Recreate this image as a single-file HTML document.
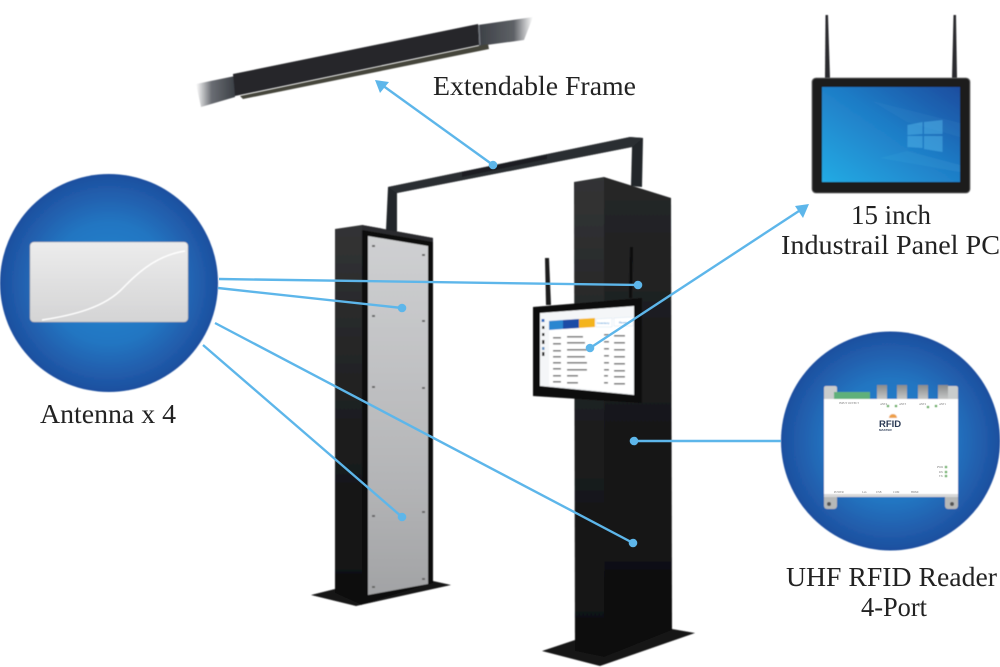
<!DOCTYPE html>
<html lang="en"><head><meta charset="utf-8"><title>RFID Gate</title>
<style>html,body{margin:0;padding:0;background:#fff}svg{display:block}text{font-family:"Liberation Serif",serif;fill:#222}</style></head>
<body>
<svg width="1000" height="667" viewBox="0 0 1000 667" xmlns="http://www.w3.org/2000/svg">
<defs>
<radialGradient id="c1" cx="50%" cy="50%" r="50%"><stop offset="0" stop-color="#2a86d0"/><stop offset=".55" stop-color="#2276c2"/><stop offset="1" stop-color="#1f4f9f"/></radialGradient>
<linearGradient id="ant" x1="0" y1="0" x2="0" y2="1"><stop offset="0" stop-color="#ececec"/><stop offset="1" stop-color="#d4d4d5"/></linearGradient>
<linearGradient id="silver" x1="0" y1="0" x2="0" y2="1"><stop offset="0" stop-color="#cfd0d2"/><stop offset=".7" stop-color="#b3b4b6"/><stop offset="1" stop-color="#a2a3a5"/></linearGradient>
<linearGradient id="side" x1="0" y1="0" x2="0" y2="1"><stop offset="0" stop-color="#333435"/><stop offset=".55" stop-color="#1c1d1e"/><stop offset="1" stop-color="#0f0f0f"/></linearGradient>
<linearGradient id="front" x1="0" y1="0" x2="0" y2="1"><stop offset="0" stop-color="#262728"/><stop offset=".5" stop-color="#19191a"/><stop offset="1" stop-color="#0d0d0d"/></linearGradient>
<linearGradient id="win" x1="0" y1="1" x2="1" y2="0"><stop offset="0" stop-color="#25abe4"/><stop offset=".55" stop-color="#1f7cc6"/><stop offset="1" stop-color="#1f4d9f"/></linearGradient>
<linearGradient id="endL" x1="0" y1="0" x2="1" y2="0"><stop offset="0" stop-color="#fff"/><stop offset=".4" stop-color="#6a6d73"/><stop offset="1" stop-color="#3c4046"/></linearGradient>
<linearGradient id="endR" x1="0" y1="0" x2="1" y2="0"><stop offset="0" stop-color="#3c4046"/><stop offset=".65" stop-color="#5e6166"/><stop offset="1" stop-color="#fff"/></linearGradient>
<linearGradient id="term" x1="0" y1="0" x2="0" y2="1"><stop offset="0" stop-color="#8a8c8c"/><stop offset="1" stop-color="#c9caca"/></linearGradient>
<filter id="soft" x="-5%" y="-5%" width="110%" height="110%"><feGaussianBlur stdDeviation=".45"/></filter>
</defs>

<g filter="url(#soft)">
<!-- Extendable frame detail -->
<polygon points="196,84 235,76 235,97 201,107" fill="url(#endL)"/>
<polygon points="478,25 533,17 524,40 479,46" fill="url(#endR)"/>
<polygon points="240,96 488,44 489,49 243,99" fill="#44443a"/>
<polygon points="233,74 478,24 479,45 235,96" fill="#26282c"/>
<line x1="479" y1="25" x2="480" y2="45" stroke="#80848a" stroke-width="1"/>

<!-- Overhead frame -->
<polygon points="388,187 630,137 643,138 642,187 631,186 632,147 397,193 397,232 386,230" fill="#24282c"/>
<polygon points="388,187 630,137 643,138 632,147 397,193" fill="#2b2f33"/>
<polygon points="462,172 547,155 547,159 462,177" fill="#1c1f22"/>

<!-- Left tower -->
<polygon points="311,595 335,589 433,581 451,585 356,606" fill="#141414"/>
<polygon points="335,229 362,225 362,605 335,593" fill="url(#side)"/>
<polygon points="362,225 433,238 433,583 362,604" fill="#0f0f10"/>
<polygon points="362,225 433,238 433,242 362,230" fill="#2c2c2d"/>
<polygon points="368,236 428,246 428,584 368,595" fill="url(#silver)"/>
<g fill="#666">
<rect x="372" y="245" width="3" height="2"/><rect x="422" y="254" width="3" height="2"/>
<rect x="372" y="315" width="3" height="2"/><rect x="422" y="320" width="3" height="2"/>
<rect x="372" y="386" width="3" height="2"/><rect x="422" y="387" width="3" height="2"/>
<rect x="372" y="515" width="3" height="2"/><rect x="422" y="511" width="3" height="2"/>
<rect x="372" y="586" width="3" height="2"/><rect x="422" y="578" width="3" height="2"/>
</g>

<!-- Right tower -->
<polygon points="542,651 575,640 672,629 695,633 600,666" fill="#161616"/>
<polygon points="574,182 604,177 604,657 575,651" fill="url(#side)"/>
<polygon points="604,177 671,198 672,630 604,657" fill="url(#front)"/>

<!-- Monitor antennas -->
<polygon points="545,258 549,258 551,305 546,305" fill="#1c1d1f"/>
<polygon points="630,247 633,247 632,298 629,298" fill="#0e0f10"/>

<!-- Monitor -->
<polygon points="533,307 642,298 642,403 533,396" fill="#0a0a0b"/>
<polygon points="540,313 634,306 634,395 540,386" fill="#f4f6f8"/>
<polygon points="549,323 633,318 633,394 549,385" fill="#fff"/>
<polygon points="549,321 563,320 563,329 549,330" fill="#2c86d0"/>
<polygon points="563,320 579,319 579,328 563,329" fill="#1b4ca6"/>
<polygon points="579,319 595,318 595,327 579,328" fill="#f4b41c"/>
<polygon points="596,319 612,318 612,327 596,327" fill="#fff" stroke="#d8e6f2" stroke-width=".5"/>
<polygon points="614,318 633,317 633,326 614,326" fill="#fff" stroke="#d8e6f2" stroke-width=".5"/>
<text x="597" y="324" font-size="3" style="font-family:'Liberation Sans',sans-serif;fill:#2c86d0">Inventory</text>
<text x="619" y="323.500" font-size="3" style="font-family:'Liberation Sans',sans-serif;fill:#2c86d0">Reset</text>
<g fill="#333">
<rect x="541.500" y="319" width="3" height="3" fill="#2c6cc0"/><rect x="542" y="326" width="2.500" height="3"/><rect x="542" y="333" width="2.500" height="3"/><rect x="542" y="340" width="2.500" height="4"/><rect x="542" y="347" width="2.500" height="3" fill="#5f8fc0"/><rect x="542" y="352" width="2.500" height="4"/>
</g>
<g fill="#777">
<rect x="553" y="337" width="8" height="1.600"/><rect x="567" y="336" width="16" height="1.600"/><rect x="604" y="334" width="5" height="1.600"/><rect x="614" y="335" width="11" height="1.600"/>
<rect x="553" y="343" width="8" height="1.600"/><rect x="567" y="342" width="18" height="1.600"/><rect x="604" y="341" width="5" height="1.600"/><rect x="614" y="342" width="11" height="1.600"/>
<rect x="553" y="350" width="8" height="1.600"/><rect x="567" y="349" width="20" height="1.600"/><rect x="604" y="348" width="5" height="1.600"/><rect x="614" y="349" width="11" height="1.600"/>
<rect x="553" y="356" width="8" height="1.600"/><rect x="567" y="356" width="18" height="1.600"/><rect x="604" y="355" width="5" height="1.600"/><rect x="614" y="356" width="11" height="1.600"/>
<rect x="553" y="362" width="8" height="1.600"/><rect x="567" y="362" width="20" height="1.600"/><rect x="604" y="362" width="5" height="1.600"/><rect x="614" y="363" width="11" height="1.600"/>
<rect x="553" y="368" width="8" height="1.600"/><rect x="567" y="369" width="20" height="1.600"/><rect x="604" y="369" width="5" height="1.600"/><rect x="614" y="370" width="11" height="1.600"/>
<rect x="553" y="375" width="8" height="1.600"/><rect x="567" y="375" width="11" height="1.600"/><rect x="604" y="375" width="4" height="1.600"/><rect x="614" y="376" width="11" height="1.600"/>
<rect x="553" y="381" width="8" height="1.600"/><rect x="567" y="382" width="11" height="1.600"/><rect x="604" y="382" width="4" height="1.600"/><rect x="614" y="383" width="11" height="1.600"/>
</g>

<!-- Antenna circle -->
<circle cx="109" cy="283" r="109" fill="url(#c1)"/>
<rect x="30" y="242" width="158" height="80" rx="4" fill="url(#ant)" stroke="#a9acb0" stroke-width=".6"/>
<path d="M42,320 C75,315 105,307 123,288 C142,268 160,255 185,251" fill="none" stroke="#fff" stroke-width="1.400"/>

<!-- Reader circle -->
<circle cx="890.500" cy="441" r="109.500" fill="url(#c1)"/>
<rect x="824" y="386" width="13" height="20" rx="2" fill="#c9cccc"/>
<rect x="945" y="386" width="13" height="20" rx="2" fill="#c9cccc"/>
<rect x="824" y="490" width="13" height="19" rx="3" fill="#b6b8b8"/>
<rect x="945" y="490" width="13" height="19" rx="3" fill="#b6b8b8"/>
<circle cx="829" cy="504" r="2" fill="#555"/><circle cx="952" cy="504" r="2" fill="#555"/>
<rect x="834" y="392" width="36" height="8" fill="#5fb07a"/>
<rect x="877" y="385" width="10" height="15" fill="url(#term)"/><rect x="897" y="385" width="10" height="15" fill="url(#term)"/><rect x="918" y="385" width="10" height="15" fill="url(#term)"/><rect x="938" y="385" width="10" height="15" fill="url(#term)"/>
<rect x="824" y="399" width="134" height="98" fill="#fff"/>
<rect x="824" y="494" width="134" height="3" fill="#d8d8d8"/>
<circle cx="888" cy="406" r="1.300" fill="#55a84f"/><circle cx="896" cy="406" r="1.300" fill="#55a84f"/><circle cx="928" cy="407" r="1.300" fill="#55a84f"/><circle cx="936" cy="406" r="1.300" fill="#55a84f"/>
<circle cx="946" cy="467" r="1.300" fill="#55a84f"/><circle cx="946" cy="472" r="1.300" fill="#55a84f"/><circle cx="946" cy="476" r="1.300" fill="#55a84f"/>
<path d="M889,418 a4,4 0 0 1 8,0z" fill="#eda04a"/>

<!-- Panel PC -->
<polygon points="825.500,15 828,15 830,78 825,78" fill="#2b2c2e"/>
<polygon points="953.500,15 956,15 957,78 952,78" fill="#2b2c2e"/>
<rect x="812" y="78" width="158" height="115" rx="4" fill="#1a1a1b" stroke="#6a6a6a" stroke-width=".8"/>
<rect x="822" y="87" width="138" height="95" fill="url(#win)"/>
<polygon points="872,101 960,123 960,137 907,122" fill="#3a9ad8" opacity=".12"/>
<polygon points="907,151 960,165 960,172 880,158" fill="#5dc0ea" opacity=".12"/>
<g fill="#52b6ea" opacity=".5">
<polygon points="907.500,125 922.500,122 922.500,134 907.500,135"/>
<polygon points="924,122 942.500,120 942.500,134 924,134"/>
<polygon points="907.500,136 922.500,136 922.500,148 907.500,147"/>
<polygon points="924,136 942.500,136 942.500,152 924,149"/>
</g>
</g>

<!-- Reader labels -->
<text x="879" y="427" font-size="9.500" font-weight="bold" style="font-family:'Liberation Sans',sans-serif;fill:#2b3a55">RFID</text>
<text x="879" y="431" font-size="3" font-weight="bold" style="font-family:'Liberation Sans',sans-serif;fill:#2b3a55">MASTER</text>
<g style="font-family:'Liberation Sans',sans-serif" font-size="2.800">
<text x="834" y="493" style="fill:#777">POWER</text><text x="862" y="493" style="fill:#777">Lan</text><text x="876" y="493" style="fill:#777">USB</text><text x="893" y="493" style="fill:#777">COM</text><text x="911" y="493" style="fill:#777">HDMI</text>
<text x="880" y="405" style="fill:#777">ANT4</text><text x="899" y="405" style="fill:#777">ANT3</text><text x="919" y="405" style="fill:#777">ANT2</text><text x="939" y="405" style="fill:#777">ANT1</text>
<text x="839" y="404" style="fill:#777">INPUT OUTPUT</text>
<text x="937" y="468" style="fill:#777">PWR</text><text x="939" y="473" style="fill:#777">RX</text><text x="939" y="477" style="fill:#777">TX</text>
</g>

<!-- Connectors -->
<g stroke="#5db6ea" stroke-width="2.400" fill="none">
<line x1="219" y1="279" x2="638" y2="285"/>
<line x1="218" y1="288" x2="402" y2="308"/>
<line x1="215" y1="323" x2="633" y2="543"/>
<line x1="203" y1="345" x2="402" y2="517"/>
<line x1="493" y1="165" x2="382" y2="85"/>
<line x1="590" y1="348" x2="802" y2="209"/>
<line x1="634" y1="441" x2="781" y2="441"/>
</g>
<g fill="#5db6ea">
<circle cx="638" cy="285" r="4.300"/><circle cx="402" cy="308" r="4.300"/><circle cx="633" cy="543" r="4.300"/><circle cx="402" cy="517" r="4.300"/><circle cx="493" cy="165" r="4.300"/><circle cx="590" cy="348" r="4.300"/><circle cx="634" cy="441" r="4.300"/>
<polygon points="375,80 389,82 380,93"/>
<polygon points="809,204 795,206 803,218"/>
</g>

<!-- Labels -->
<g font-size="27">
<text x="433" y="95" textLength="203" lengthAdjust="spacingAndGlyphs">Extendable Frame</text>
<text x="851" y="224" textLength="80" lengthAdjust="spacingAndGlyphs">15 inch</text>
<text x="781" y="254" textLength="219" lengthAdjust="spacingAndGlyphs">Industrail Panel PC</text>
<text x="40" y="423" textLength="136" lengthAdjust="spacingAndGlyphs">Antenna x 4</text>
<text x="786" y="586" textLength="211" lengthAdjust="spacingAndGlyphs">UHF RFID Reader</text>
<text x="861" y="616" textLength="66" lengthAdjust="spacingAndGlyphs">4-Port</text>
</g>
</svg>
</body></html>
